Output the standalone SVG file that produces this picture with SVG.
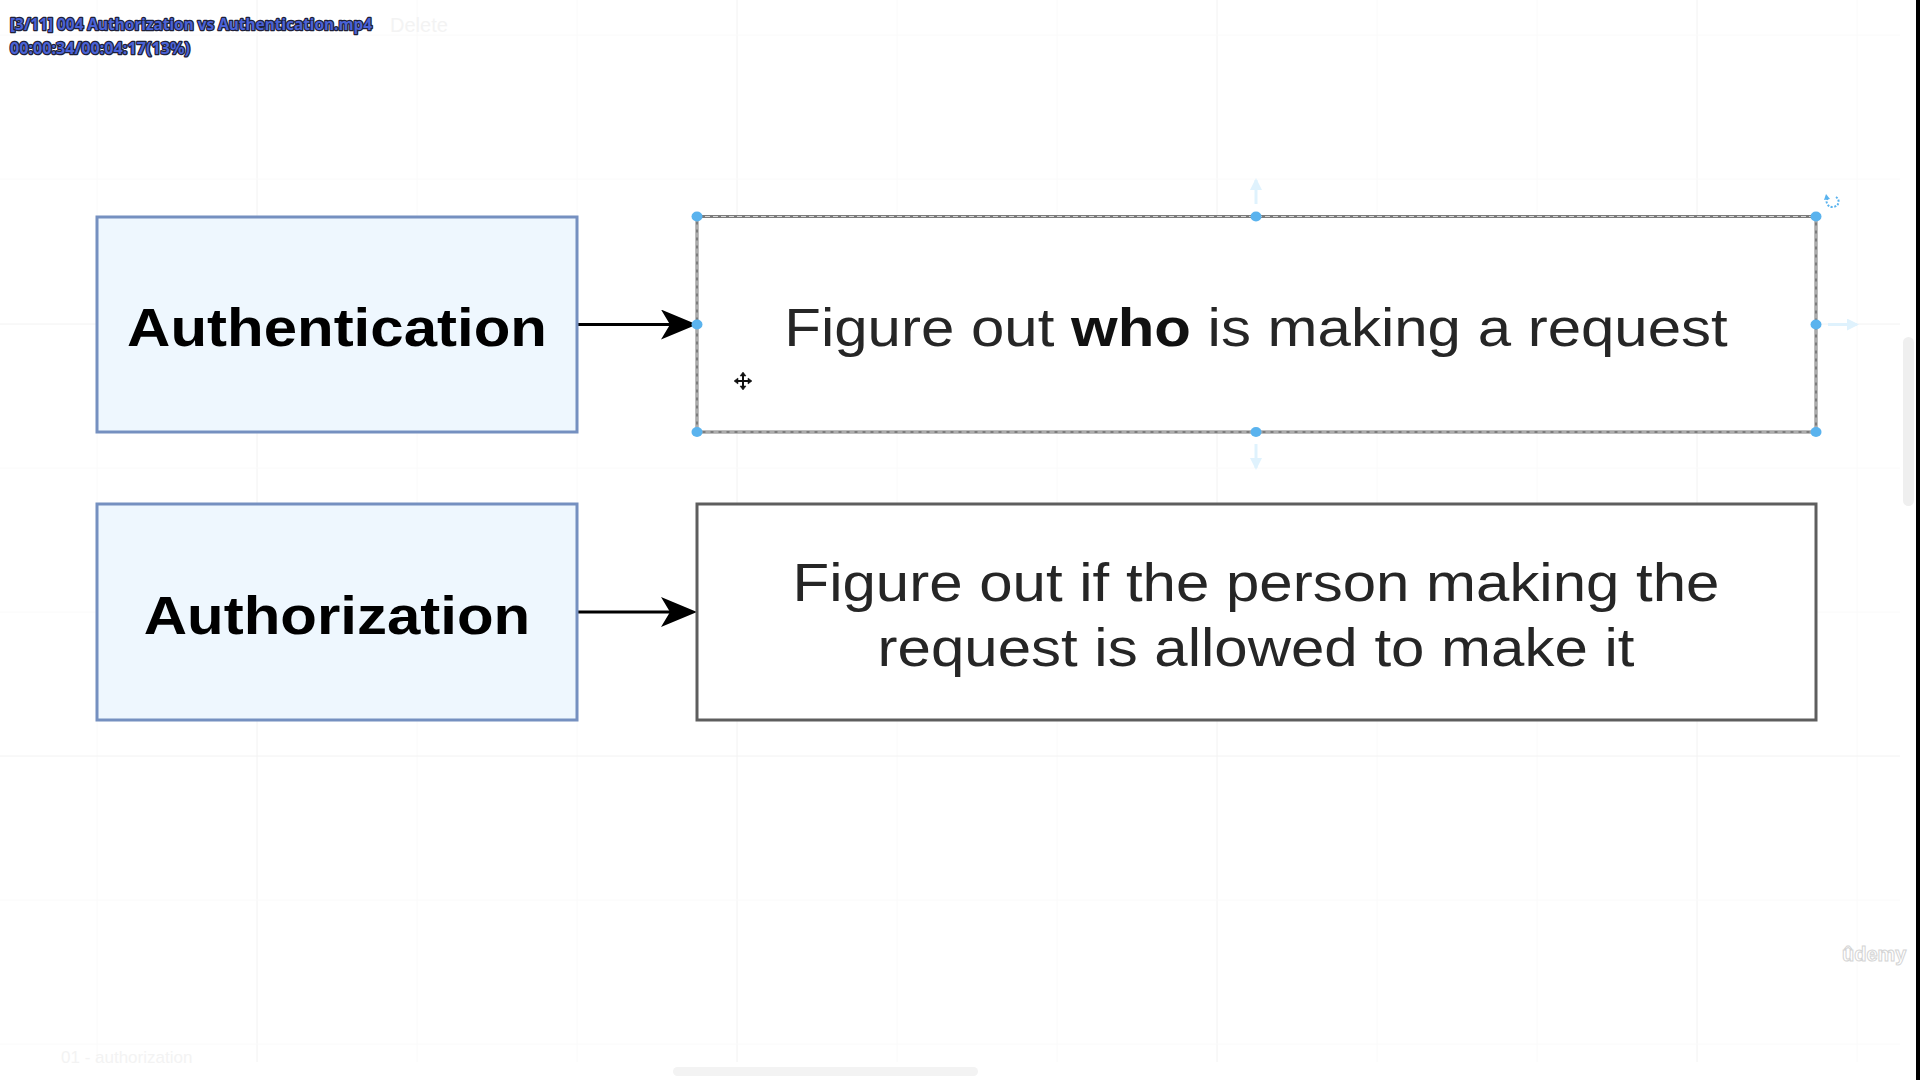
<svg xmlns="http://www.w3.org/2000/svg" width="1920" height="1080" viewBox="0 0 1920 1080">
<defs>
<style>
.grid-minor{stroke:#fafafa;stroke-width:1}
.grid-major{stroke:#f2f2f2;stroke-width:1}
.term{fill:#eef7fe;stroke:#7590c0;stroke-width:3}
.desc{fill:#ffffff;stroke:#5e5e5e;stroke-width:3}
.term-text{font-family:"Liberation Sans",Arial,sans-serif;font-weight:bold;font-size:60px;fill:#000000;text-anchor:middle}
.desc-text{font-family:"Liberation Sans",Arial,sans-serif;font-size:60px;fill:#262626;text-anchor:middle}
.edge{stroke:#000000;stroke-width:3;fill:none}
.handle{fill:#5ab3ee}
.hint{stroke:#dff2fd;stroke-width:3;fill:none}
.overlay{font-family:"Noto Sans","DejaVu Sans",sans-serif;font-weight:bold;font-size:16px;fill:#4a62d6;stroke:#1e2138;stroke-width:2.5;paint-order:stroke;stroke-linejoin:round}
.faint{font-family:"Liberation Sans",Arial,sans-serif;fill:#f3f3f3}
</style>
<marker id="arrow" viewBox="0 0 36 30" markerUnits="userSpaceOnUse" markerWidth="36" markerHeight="30" refX="27" refY="15" orient="auto">
<path d="M0,0 L36,15 L0,30 L9,15 Z" fill="#000000"/>
</marker>
<marker id="hintArrow" viewBox="0 0 12 12" markerUnits="userSpaceOnUse" markerWidth="12" markerHeight="12" refX="10" refY="6" orient="auto">
<path d="M0,0 L12,6 L0,12 Z" fill="#dff2fd"/>
</marker>
</defs>
<rect x="0" y="0" width="1920" height="1080" fill="#ffffff"/>
<g id="grid">
<line class="grid-minor" x1="97" y1="0" x2="97" y2="1062"/>
<line class="grid-major" x1="257" y1="0" x2="257" y2="1062"/>
<line class="grid-minor" x1="417" y1="0" x2="417" y2="1062"/>
<line class="grid-minor" x1="577" y1="0" x2="577" y2="1062"/>
<line class="grid-major" x1="737" y1="0" x2="737" y2="1062"/>
<line class="grid-minor" x1="897" y1="0" x2="897" y2="1062"/>
<line class="grid-minor" x1="1057" y1="0" x2="1057" y2="1062"/>
<line class="grid-major" x1="1217" y1="0" x2="1217" y2="1062"/>
<line class="grid-minor" x1="1377" y1="0" x2="1377" y2="1062"/>
<line class="grid-minor" x1="1537" y1="0" x2="1537" y2="1062"/>
<line class="grid-major" x1="1697" y1="0" x2="1697" y2="1062"/>
<line class="grid-minor" x1="1857" y1="0" x2="1857" y2="1062"/>
<line class="grid-minor" x1="0" y1="35" x2="1900" y2="35"/>
<line class="grid-minor" x1="0" y1="179" x2="1900" y2="179"/>
<line class="grid-major" x1="0" y1="324" x2="1900" y2="324"/>
<line class="grid-minor" x1="0" y1="468" x2="1900" y2="468"/>
<line class="grid-minor" x1="0" y1="612" x2="1900" y2="612"/>
<line class="grid-major" x1="0" y1="756" x2="1900" y2="756"/>
<line class="grid-minor" x1="0" y1="900" x2="1900" y2="900"/>
<line class="grid-minor" x1="0" y1="1044" x2="1900" y2="1044"/>
</g>
<g id="connectors">
<line class="edge" x1="578" y1="324.5" x2="688" y2="324.5" marker-end="url(#arrow)"/>
<line class="edge" x1="578" y1="612" x2="688" y2="612" marker-end="url(#arrow)"/>
</g>
<g id="authentication">
<rect class="term" x="97" y="217" width="480" height="215"/>
<text class="term-text" transform="translate(337,346) scale(1,0.9)">Authentication</text>
</g>
<g id="authentication-desc">
<rect x="697" y="216.5" width="1119" height="215.5" fill="#ffffff" stroke="#7c7c7c" stroke-width="3"/>
<rect x="697" y="216.5" width="1119" height="215.5" fill="none" stroke="#d9d9d9" stroke-width="1" stroke-dasharray="5 3"/>
<text class="desc-text" transform="translate(1256,346) scale(1,0.9)">Figure out <tspan font-weight="bold" fill="#111111">who</tspan> is making a request</text>
</g>
<g id="authorization">
<rect class="term" x="97" y="504" width="480" height="216"/>
<text class="term-text" transform="translate(337,634) scale(1,0.9)">Authorization</text>
</g>
<g id="authorization-desc">
<rect class="desc" x="697" y="504" width="1119" height="216"/>
<text class="desc-text" transform="translate(1256,601) scale(1,0.9)"><tspan x="0" y="0">Figure out if the person making the</tspan><tspan x="0" y="72">request is allowed to make it</tspan></text>
</g>
<g id="selection">
<line class="hint" x1="1256" y1="204" x2="1256" y2="180" marker-end="url(#hintArrow)"/>
<line class="hint" x1="1256" y1="444" x2="1256" y2="468" marker-end="url(#hintArrow)"/>
<line class="hint" x1="1828" y1="324.5" x2="1857" y2="324.5" marker-end="url(#hintArrow)"/>
<ellipse class="handle" cx="697" cy="216.5" rx="5.5" ry="5"/>
<ellipse class="handle" cx="1256" cy="216.5" rx="5.5" ry="5"/>
<ellipse class="handle" cx="1816" cy="216.5" rx="5.5" ry="5"/>
<ellipse class="handle" cx="697" cy="324.5" rx="5.5" ry="5"/>
<ellipse class="handle" cx="1816" cy="324.5" rx="5.5" ry="5"/>
<ellipse class="handle" cx="697" cy="432" rx="5.5" ry="5"/>
<ellipse class="handle" cx="1256" cy="432" rx="5.5" ry="5"/>
<ellipse class="handle" cx="1816" cy="432" rx="5.5" ry="5"/>
<path d="M1836,197 A6,5.5 0 1 1 1828,198" fill="none" stroke="#5ab3ee" stroke-width="2" stroke-dasharray="2 1.5"/>
<path d="M1826,194 L1830,199 L1824,200 Z" fill="#5ab3ee"/>
<g transform="translate(743,381)" stroke="#111111" stroke-width="2" fill="#111111">
<line x1="-7" y1="0" x2="7" y2="0"/>
<line x1="0" y1="-7" x2="0" y2="7"/>
<path d="M-9,0 L-5,-3 L-5,3 Z M9,0 L5,-3 L5,3 Z M0,-9 L-3,-5 L3,-5 Z M0,9 L-3,5 L3,5 Z" stroke-width="0.5"/>
</g>
</g>
<g id="ui-chrome">
<text class="faint" x="390" y="32" font-size="20">Delete</text>
<text class="faint" x="61" y="1063" font-size="17" fill="#e8e8e8">01 - authorization</text>
<rect x="673" y="1067" width="305" height="9" rx="4.5" fill="#f3f3f3"/>
<rect x="1903" y="337" width="11" height="169" rx="5.5" fill="#efefef"/>
<text x="1842" y="961" font-family="Liberation Sans,Arial,sans-serif" font-weight="bold" font-size="20" fill="#ffffff" stroke="#d4d4d4" stroke-width="1">ûdemy</text>
<rect x="1916" y="0" width="4" height="1080" fill="#000000"/>
</g>
<g id="player-overlay">
<text class="overlay" x="10" y="30" textLength="362" lengthAdjust="spacingAndGlyphs">[3/11] 004 Authorization vs Authentication.mp4</text>
<text class="overlay" x="10" y="54" textLength="180" lengthAdjust="spacingAndGlyphs">00:00:34/00:04:17(13%)</text>
</g>
</svg>
